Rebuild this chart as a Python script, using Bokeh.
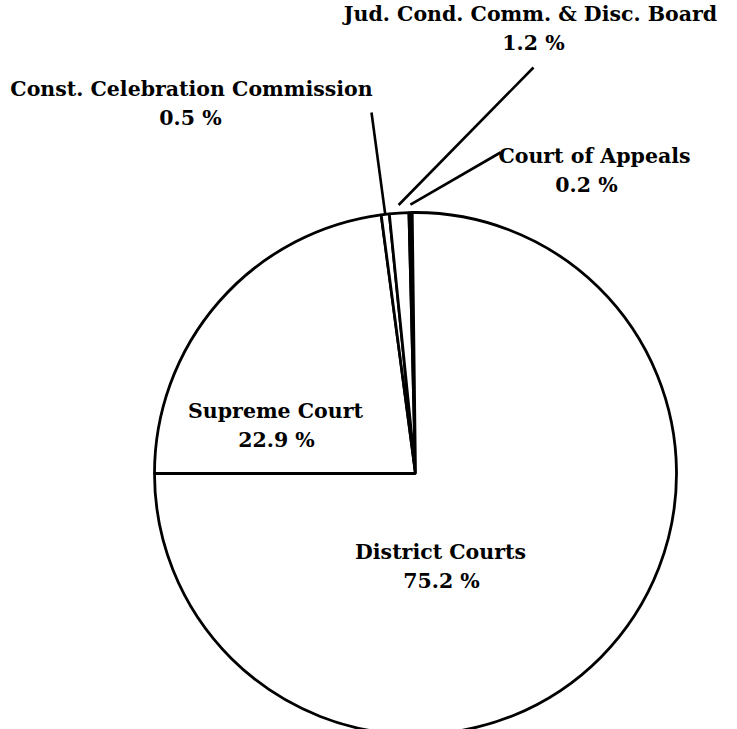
import numpy as np
from bokeh.plotting import figure
from bokeh.models import Range1d
from bokeh.core.properties import value
from bokeh.embed import file_html
from bokeh.resources import INLINE

# ---- data (clockwise from the 9 o'clock line) ----
names = ["Supreme Court", "Const. Celebration Commission",
         "Jud. Cond. Comm. & Disc. Board", "Court of Appeals", "District Courts"]
shares = [22.9, 0.5, 1.2, 0.2, 75.2]
pct_labels = ["22.9 %", "0.5 %", "1.2 %", "0.2 %", "75.2 %"]
fills = ["white", "white", "white", "black", "white"]

# ---- layout (picture pixel coordinates) ----
W, H = 737, 729
def Y(img_y):
    return H - img_y

cx, cy, R = 415, Y(473), 261
label_pos = {  # name line centre (image px)
    "Supreme Court": (275, 410),
    "Const. Celebration Commission": (191, 88),
    "Jud. Cond. Comm. & Disc. Board": (530, 13),
    "Court of Appeals": (594, 155),
    "District Courts": (440, 551),
}
pct_pos = {
    "Supreme Court": (276, 439),
    "Const. Celebration Commission": (190, 117),
    "Jud. Cond. Comm. & Disc. Board": (533, 42),
    "Court of Appeals": (586, 184),
    "District Courts": (441, 580),
}
leader_out = {
    "Const. Celebration Commission": (371, 112),
    "Jud. Cond. Comm. & Disc. Board": (533, 67),
    "Court of Appeals": (500, 152),
}
leader_r = {
    "Const. Celebration Commission": R,
    "Jud. Cond. Comm. & Disc. Board": R + 8,
    "Court of Appeals": R + 8,
}

frac = np.array(shares) / np.sum(shares)
cum = np.concatenate([[0], np.cumsum(frac)])
start = np.pi - 2 * np.pi * cum[:-1]
end = np.pi - 2 * np.pi * cum[1:]
mid = (start + end) / 2

p = figure(width=W, height=H, output_backend="svg", toolbar_location=None,
           x_range=Range1d(0, W), y_range=Range1d(0, H),
           min_border=0)
p.axis.visible = False
p.grid.visible = False
p.outline_line_color = None
p.background_fill_color = "white"

p.wedge(x=cx, y=cy, radius=R, start_angle=start, end_angle=end,
        direction="clock", fill_color=fills, line_color="black",
        line_width=2.8)

# leader lines
for i, n in enumerate(names):
    if n in leader_out:
        ox, oy = leader_out[n]
        r = leader_r[n]
        ix = cx + r * np.cos(mid[i])
        iy = cy + r * np.sin(mid[i])
        p.line([ox, ix], [Y(oy), iy], line_color="black", line_width=2.6)

font = value("DejaVu Serif")
for i, n in enumerate(names):
    lx, ly = label_pos[n]
    px_, py_ = pct_pos[n]
    p.text(x=[lx], y=[Y(ly)], text=[n], text_font=font, text_font_size="20.5px",
           text_font_style="bold", text_align="center", text_baseline="middle",
           text_color="black")
    p.text(x=[px_], y=[Y(py_)], text=[pct_labels[i]], text_font=font,
           text_font_size="20.5px", text_font_style="bold", text_align="center",
           text_baseline="middle", text_color="black")

open("out.html", "w").write(file_html(p, INLINE))
